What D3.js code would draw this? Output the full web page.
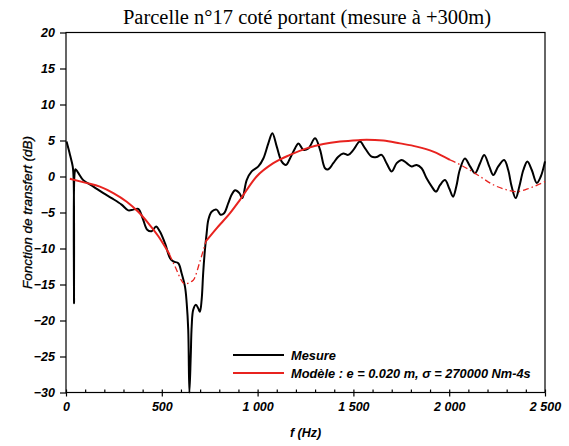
<!DOCTYPE html>
<html>
<head>
<meta charset="utf-8">
<script src="https://cdn.jsdelivr.net/npm/d3@7"></script>
<style>
  body { margin: 0; background: #fff; }
  svg text { fill: #000; }
</style>
</head>
<body>
<script>
// mesure (black)
var mesureF = [3, 21, 35, 40, 42, 45, 50, 64, 90, 143, 195, 238, 290, 325, 351, 377, 400, 424, 447, 470,
    490, 517, 543, 560, 586, 603, 621, 630, 638, 644, 651, 656, 664, 678, 690, 699, 708, 716, 725, 734,
    743, 760, 786, 807, 825, 847, 865, 883, 905, 920, 943, 969, 1004, 1030, 1056, 1077, 1100, 1126, 1148, 1169,
    1195, 1213, 1239, 1265, 1300, 1326, 1352, 1369, 1395, 1421, 1447, 1473, 1500, 1534, 1561, 1595, 1621, 1647, 1673, 1700,
    1726, 1752, 1778, 1804, 1830, 1856, 1882, 1909, 1931, 1952, 1978, 2001, 2020, 2037, 2055, 2082, 2109, 2135, 2161, 2183,
    2209, 2230, 2256, 2287, 2308, 2326, 2347, 2366, 2387, 2408, 2431, 2457, 2478, 2500];
var mesureDb = [4.85, 3.0, 1.4, -0.5, -17.6, 0.5, 1.0, 0.5, -0.5, -1.4, -2.3, -3.0, -3.9, -4.7, -4.6, -4.5, -5.8, -7.4, -7.6, -6.95,
    -7.65, -9.3, -11.35, -11.8, -12.05, -13.4, -15.3, -17.6, -21.3, -30, -25, -20.8, -18.5, -17.8, -18.3, -18.8, -17.1, -13.4, -10.2, -7.9,
    -6.0, -4.9, -4.6, -5.3, -5.1, -3.7, -2.5, -1.9, -2.3, -3.0, -0.5, 0.7, 1.4, 2.5, 4.6, 6.0, 4.15, 2.07, 1.6, 2.5,
    3.9, 4.6, 3.7, 3.9, 5.3, 3.7, 1.15, 1.0, 1.85, 2.75, 3.2, 3.0, 3.7, 4.85, 3.9, 2.75, 2.7, 3.0, 1.85, 0.7,
    1.85, 2.3, 1.85, 1.4, 1.6, 1.15, -0.25, -1.4, -2.1, -1.2, -0.5, -1.7, -2.8, -1.4, 0.9, 2.5, 1.4, 0.45, 1.85, 3.0,
    1.4, 0.2, 1.4, 2.3, 0.9, -1.4, -3.0, -1.4, 0.9, 2.1, 0.9, -0.9, 0, 2.1];

// modele (red)
var modeleF = [20, 99, 177, 247, 317, 377, 430, 482, 540, 569, 620, 664, 699, 730, 786, 856, 908, 995, 1082, 1169,
    1256, 1343, 1430, 1526, 1569, 1656, 1743, 1830, 1917, 2004, 2030, 2091, 2161, 2230, 2300, 2352, 2422, 2500];
var modeleDb = [-0.3, -0.85, -1.4, -2.3, -3.5, -4.9, -6.5, -8.3, -10.8, -12.5, -14.9, -14.4, -11.8, -9.0, -7.2, -5.1, -3.25, 0, 1.85, 3.0,
    3.9, 4.5, 4.85, 5.05, 5.1, 5.0, 4.6, 4.15, 3.45, 2.3, 2.0, 1.15, 0, -1.15, -1.85, -2.1, -1.6, -0.7];
// parts of the model drawn dash-dot
var dashedRanges = [[540, 730], [2004, 2500]];

var xTicks = [0, 500, 1000, 1500, 2000, 2500];
var xTickLabels = ['0', '500', '1 000', '1 500', '2 000', '2 500'];
var yTicks = [-30, -25, -20, -15, -10, -5, 0, 5, 10, 15, 20];

var W = 569, H = 446,
    padding = { top: 32.5, bottom: 53.5, left: 66, right: 24 };
var width = W - padding.left - padding.right,
    height = H - padding.top - padding.bottom;

var svg = d3.select('body')
    .append('svg')
    .attr('width', W)
    .attr('height', H)

var g = svg.append('g')
    .attr('transform', `translate(${padding.left}, ${padding.top})`)

var xScale = d3.scaleLinear().domain([0, 2500]).range([0, width])
var yScale = d3.scaleLinear().domain([-30, 20]).range([height, 0])

var tickFont = 'bold italic 12.5px "Liberation Sans", Arial, sans-serif';

// frame
g.append('rect')
    .attr('width', width).attr('height', height)
    .attr('fill', 'none').attr('stroke', '#000').attr('stroke-width', 1.2)

// x axis: minor ticks inside, major ticks crossing
var xMinor = g.append('g')
    .attr('transform', `translate(0, ${height})`)
    .call(d3.axisTop(xScale).tickValues(d3.range(0, 2501, 100)).tickSize(3).tickFormat(''))
xMinor.select('.domain').remove()

var xAxis = g.append('g')
    .attr('transform', `translate(0, ${height})`)
    .call(d3.axisBottom(xScale).tickValues(xTicks).tickSize(4).tickPadding(6)
        .tickFormat((d, i) => xTickLabels[i]))
xAxis.select('.domain').remove()
xAxis.selectAll('text').style('font', tickFont)

var yAxis = g.append('g')
    .call(d3.axisLeft(yScale).tickValues(yTicks).tickSize(6).tickPadding(5))
yAxis.select('.domain').remove()
yAxis.selectAll('text').style('font', tickFont)
g.selectAll('.tick line').attr('stroke-width', 1.2)

// axis titles
svg.append('text')
    .attr('x', padding.left + width / 2)
    .attr('y', 437)
    .attr('text-anchor', 'middle')
    .style('font', 'bold italic 12.5px "Liberation Sans", Arial, sans-serif')
    .text('f (Hz)')

svg.append('text')
    .attr('transform', `translate(32, ${padding.top + height / 2}) rotate(-90)`)
    .attr('text-anchor', 'middle')
    .style('font', 'italic 13.5px "Liberation Sans", Arial, sans-serif')
    .style('stroke', '#000').style('stroke-width', 0.3)
    .text('Fonction de transfert (dB)')

svg.append('text')
    .attr('x', 307)
    .attr('y', 24)
    .attr('text-anchor', 'middle')
    .style('font', '20.5px "Liberation Serif", "Times New Roman", serif')
    .text('Parcelle n°17 coté portant (mesure à +300m)')

// curves
var mesure = mesureF.map((f, i) => ({ f: f, db: mesureDb[i] }))
var modele = modeleF.map((f, i) => ({ f: f, db: modeleDb[i] }))

var inDashed = d => dashedRanges.some(r => d.f >= r[0] && d.f <= r[1])
var inSolid = d => !dashedRanges.some(r => d.f > r[0] && d.f < r[1])

var line = d3.line()
    .x(d => xScale(d.f))
    .y(d => yScale(d.db))

g.append('path')
    .attr('d', line.curve(d3.curveCatmullRom.alpha(0.5))(mesure))
    .attr('fill', 'none')
    .attr('stroke', '#000')
    .attr('stroke-width', 2)
    .attr('stroke-linejoin', 'round')

var modLine = d3.line()
    .x(d => xScale(d.f))
    .y(d => yScale(d.db))
    .curve(d3.curveMonotoneX)

g.append('path')
    .attr('d', modLine.defined(inSolid)(modele))
    .attr('fill', 'none')
    .attr('stroke', '#e8231f')
    .attr('stroke-width', 2)

g.append('path')
    .attr('d', modLine.defined(inDashed)(modele))
    .attr('fill', 'none')
    .attr('stroke', '#e8231f')
    .attr('stroke-width', 1.3)
    .attr('stroke-dasharray', '6,3,1.5,3')

// legend
var legend = [
    { label: 'Mesure', color: '#000' },
    { label: 'Modèle : e = 0.020 m, σ = 270000 Nm-4s', color: '#e8231f' }
];
var lg = svg.append('g').attr('transform', 'translate(233, 355)')
legend.forEach((d, i) => {
    lg.append('line')
        .attr('x1', 0).attr('x2', 51)
        .attr('y1', i * 18).attr('y2', i * 18)
        .attr('stroke', d.color).attr('stroke-width', 2)
    lg.append('text')
        .attr('x', 58).attr('y', i * 18 + 4.5)
        .style('font', 'bold italic 12.8px "Liberation Sans", Arial, sans-serif')
        .text(d.label)
})
</script>
</body>
</html>
